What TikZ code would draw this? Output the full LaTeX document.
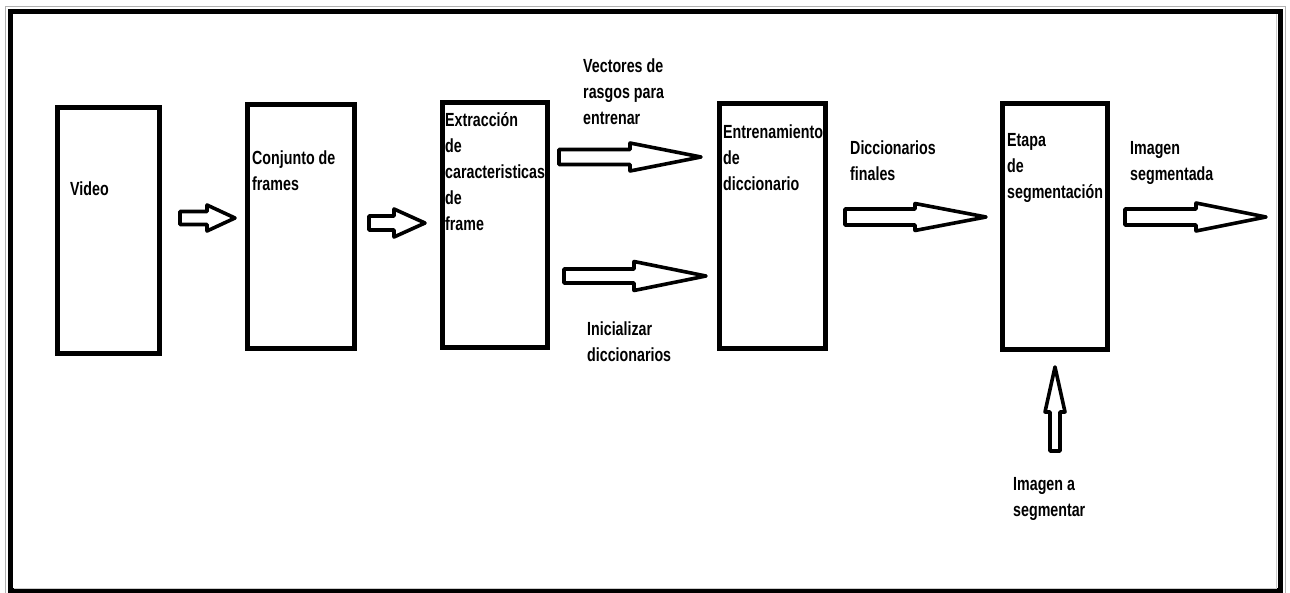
\documentclass[tikz,border=0pt]{standalone}
\usepackage{fontspec}
\setmainfont{Liberation Sans}[FakeStretch=0.75]
\tikzset{
  box/.style={draw=black, line width=5pt},
  barrow/.style={draw=black, fill=white, line width=3.6pt, line join=round},
  lbl/.style={anchor=base west, inner sep=0pt, font=\fontsize{19}{26}\selectfont\bfseries},
}
\newcommand\harrow[7]{% name, x0, xh, xt, yc, shaft half, head half
  \draw[barrow] (#2,#5-#6) -- (#3,#5-#6) -- (#3,#5-#7) -- (#4,#5) coordinate (#1)
    -- (#3,#5+#7) -- (#3,#5+#6) -- (#2,#5+#6) -- cycle;}
\newcommand\ml[1]{\begin{tabular}[t]{@{}l@{}}#1\end{tabular}}
\begin{document}
\begin{tikzpicture}[x=1pt,y=-1pt]
\useasboundingbox (0,0) rectangle (1290,592);
% frame
\draw[gray!60, line width=1pt] (5,6) rectangle (1285.5,600);
\draw[black, line width=4.5pt] (10.5,11.5) rectangle (1280.5,590.5);
\draw[gray!40, line width=1pt] (1276.5,14) -- (1276.5,588) -- (14,588);
% boxes
\draw[box] (57.5,107) rectangle (159.5,353) node[pos=0] (video) {};
\draw[box] (247.5,104) rectangle (354,348) node[pos=0] (frames) {};
\draw[box] (442.5,102.5) rectangle (547.5,347.5) node[pos=0] (extr) {};
\draw[box] (719,103) rectangle (825,348) node[pos=0] (entr) {};
\draw[box] (1002.5,103.5) rectangle (1107.5,349) node[pos=0] (seg) {};
% labels
\node[lbl] (tvideo) at (70,195) {Video};
\node[lbl] (tframes) at (252,164) {\ml{Conjunto de\\frames}};
\node[lbl] (textr) at (445,126) {\ml{Extracción\\de\\caracteristicas\\de\\frame}};
\node[lbl] (tvect) at (583,72) {\ml{Vectores de\\rasgos para\\entrenar}};
\node[lbl] (tinic) at (587,335) {\ml{Inicializar\\diccionarios}};
\node[lbl] (tentr) at (723,138) {\ml{Entrenamiento\\de\\diccionario}};
\node[lbl] (tdicc) at (850,154) {\ml{Diccionarios\\finales}};
\node[lbl] (tseg) at (1007,146) {\ml{Etapa\\de\\segmentación}};
\node[lbl] (tout) at (1130,154) {\ml{Imagen\\segmentada}};
\node[lbl] (tin) at (1013,490) {\ml{Imagen a\\segmentar}};
% block arrows
\harrow{a1}{180}{207}{235}{218}{6.5}{13}
\harrow{a2}{369}{394}{425}{223}{7}{14}
\harrow{a3}{559}{630}{701}{157}{7.5}{14}
\harrow{a4}{564}{634}{706}{276}{7}{14.5}
\harrow{a5}{845}{915}{986}{217}{8}{13.5}
\harrow{a6}{1125}{1196}{1266}{217}{8}{14}
\draw[barrow] (1050,451) -- (1050,412) -- (1045,412) -- (1055,367) coordinate (a7)
  -- (1065,412) -- (1060,412) -- (1060,451) -- cycle;
\end{tikzpicture}
\end{document}
